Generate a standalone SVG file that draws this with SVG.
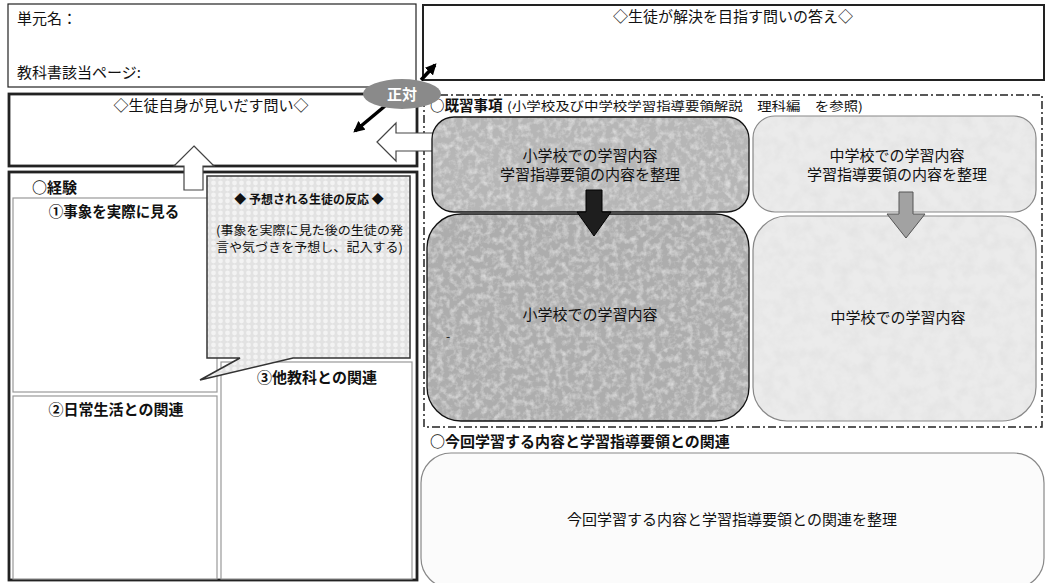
<svg xmlns="http://www.w3.org/2000/svg" width="1047" height="583" viewBox="0 0 1047 583">
<style>
.m{font-family:"Noto Sans CJK JP","Liberation Serif",serif;fill:#111}
.g{font-family:"Noto Sans CJK JP","Liberation Sans",sans-serif;font-weight:bold;fill:#111}
.box{fill:#fff;stroke:#222}
.inner{fill:#fff;stroke:#999;stroke-width:1.2}
.warr{fill:#fff;stroke:#444;stroke-width:1.2}
</style>
<defs>
<filter id="tex" x="0" y="0" width="100%" height="100%">
<feTurbulence type="fractalNoise" baseFrequency="0.16" numOctaves="3" seed="4" result="n"/>
<feColorMatrix in="n" type="matrix" values="0 0 0 0 1  0 0 0 0 1  0 0 0 0 1  1.0 0 0 0 -0.42" result="w"/>
<feComposite in="w" in2="SourceAlpha" operator="in" result="wc"/>
<feMerge><feMergeNode in="SourceGraphic"/><feMergeNode in="wc"/></feMerge>
</filter>
<filter id="tex2" x="0" y="0" width="100%" height="100%">
<feTurbulence type="fractalNoise" baseFrequency="0.08" numOctaves="3" seed="7" result="n"/>
<feColorMatrix in="n" type="matrix" values="0 0 0 0 0.6  0 0 0 0 0.6  0 0 0 0 0.6  0.5 0 0 0 -0.18" result="w"/>
<feComposite in="w" in2="SourceAlpha" operator="in" result="wc"/>
<feMerge><feMergeNode in="SourceGraphic"/><feMergeNode in="wc"/></feMerge>
</filter>
<pattern id="dots" width="7" height="6" patternUnits="userSpaceOnUse">
<rect width="7" height="6" fill="#e2e2e2"/>
<circle cx="3.5" cy="3" r="2.4" fill="#f3f3f3"/>
</pattern>
<marker id="ah" viewBox="0 0 10 10" refX="8" refY="5" markerWidth="3.2" markerHeight="3.2" orient="auto">
<path d="M0,0 L10,5 L0,10 Z" fill="#000"/>
</marker>
</defs>

<g id="unit">
<rect class="box" x="8" y="4" width="408" height="83" stroke-width="1.2"/>
<text class="m" x="17" y="24" font-size="15">単元名：</text>
<text class="m" x="17" y="78" font-size="15">教科書該当ページ:</text>
</g>

<g id="answer">
<rect class="box" x="423" y="5" width="621" height="75" stroke-width="2"/>
<text class="m" x="733" y="22" font-size="15" text-anchor="middle">◇生徒が解決を目指す問いの答え◇</text>
</g>

<g id="question">
<rect class="box" x="9" y="94" width="408" height="72" stroke-width="2.8"/>
<text class="m" x="211" y="111" font-size="15" text-anchor="middle">◇生徒自身が見いだす問い◇</text>
</g>

<g id="prior">
<rect x="424" y="95" width="618" height="332" fill="none" stroke="#222" stroke-width="1.5" stroke-dasharray="8 3 2 3"/>
<text class="g" x="430" y="111" font-size="14.5">○既習事項</text>
<text class="m" x="507" y="111" font-size="12.5" textLength="356" lengthAdjust="spacingAndGlyphs">(小学校及び中学校学習指導要領解説　理科編　を参照)</text>
</g>

<g id="experience">
<rect class="box" x="9" y="172" width="408" height="408" stroke-width="2.8"/>
<text class="g" x="32" y="193" font-size="15">○経験</text>
<rect class="inner" x="13" y="198" width="204" height="194"/>
<rect class="inner" x="13" y="396" width="204" height="183"/>
<rect class="inner" x="221" y="362" width="191" height="217"/>
<text class="g" x="114" y="217" font-size="14.5" text-anchor="middle">①事象を実際に見る</text>
<text class="g" x="116" y="415" font-size="15" text-anchor="middle">②日常生活との関連</text>
<text class="g" x="317" y="383" font-size="15" text-anchor="middle">③他教科との関連</text>
</g>

<g id="reaction">
<path d="M207,176 H410 V358 H293 L200,380 L240,358 H207 Z" fill="url(#dots)" stroke="#333" stroke-width="1.5"/>
<text class="m" x="309" y="204" font-size="12" text-anchor="middle" font-weight="bold">◆ 予想される生徒の反応 ◆</text>
<text class="m" x="216" y="235" font-size="12.5" textLength="187" lengthAdjust="spacingAndGlyphs">(事象を実際に見た後の生徒の発</text>
<text class="m" x="216" y="252" font-size="12.5" textLength="187" lengthAdjust="spacingAndGlyphs">言や気づきを予想し、記入する)</text>
</g>

<g id="connectors">
<path class="warr" d="M194,146 L214,166 L203,166 L203,190 L184,190 L184,166 L174,166 Z"/>
<path class="warr" d="M377,142 L396,123 L396,133 L440,133 L440,151 L396,151 L396,161 Z"/>
<line x1="385" y1="106" x2="355" y2="131" stroke="#000" stroke-width="3.5" marker-end="url(#ah)"/>
<line x1="421" y1="80" x2="435" y2="65" stroke="#000" stroke-width="3.5" marker-end="url(#ah)"/>
</g>

<g id="seitai">
<ellipse cx="402" cy="94" rx="39" ry="15" fill="#8a8a8a"/>
<text x="402" y="100" font-size="15" text-anchor="middle" font-family="'Noto Sans CJK JP',sans-serif" font-weight="bold" fill="#fff">正対</text>
</g>

<g id="elem-top">
<rect x="432" y="117" width="317" height="95" rx="22" fill="#b6b6b6" filter="url(#tex)"/>
<rect x="432" y="117" width="317" height="95" rx="22" fill="none" stroke="#111" stroke-width="1.3"/>
<text class="m" x="590" y="161" font-size="15" text-anchor="middle">小学校での学習内容</text>
<text class="m" x="590" y="180" font-size="15" text-anchor="middle">学習指導要領の内容を整理</text>
</g>

<g id="middle-top">
<rect x="753" y="116" width="283" height="96" rx="22" fill="#ebebeb" filter="url(#tex2)"/>
<rect x="753" y="116" width="283" height="96" rx="22" fill="none" stroke="#888" stroke-width="1.2"/>
<text class="m" x="897" y="161" font-size="15" text-anchor="middle">中学校での学習内容</text>
<text class="m" x="897" y="180" font-size="15" text-anchor="middle">学習指導要領の内容を整理</text>
</g>

<g id="elem-bottom">
<rect x="427" y="214" width="322" height="207" rx="34" fill="#adadad" filter="url(#tex)"/>
<rect x="427" y="214" width="322" height="207" rx="34" fill="none" stroke="#111" stroke-width="1.3"/>
<text class="m" x="590" y="320" font-size="15" text-anchor="middle">小学校での学習内容</text>
<text class="m" x="446" y="341" font-size="12">-</text>
</g>

<g id="middle-bottom">
<rect x="753" y="216" width="283" height="205" rx="34" fill="#ebebeb" filter="url(#tex2)"/>
<rect x="753" y="216" width="283" height="205" rx="34" fill="none" stroke="#888" stroke-width="1.2"/>
<text class="m" x="898" y="323" font-size="15" text-anchor="middle">中学校での学習内容</text>
</g>

<g id="flow-arrows">
<path d="M586,190 H602 V212 H611 L594,236 L577,212 H586 Z" fill="#1e1e1e" stroke="#000" stroke-width="1"/>
<path d="M899,192 H913 V214 H925 L906,238 L887,214 H899 Z" fill="#a2a2a2" stroke="#555" stroke-width="1"/>
</g>

<g id="relation">
<text class="g" x="430" y="447" font-size="15">○今回学習する内容と学習指導要領との関連</text>
<rect x="421" y="453" width="623" height="135" rx="30" fill="#fbfbfb" stroke="#888" stroke-width="1.2"/>
<text class="m" x="732" y="525" font-size="15" text-anchor="middle">今回学習する内容と学習指導要領との関連を整理</text>
</g>
</svg>
